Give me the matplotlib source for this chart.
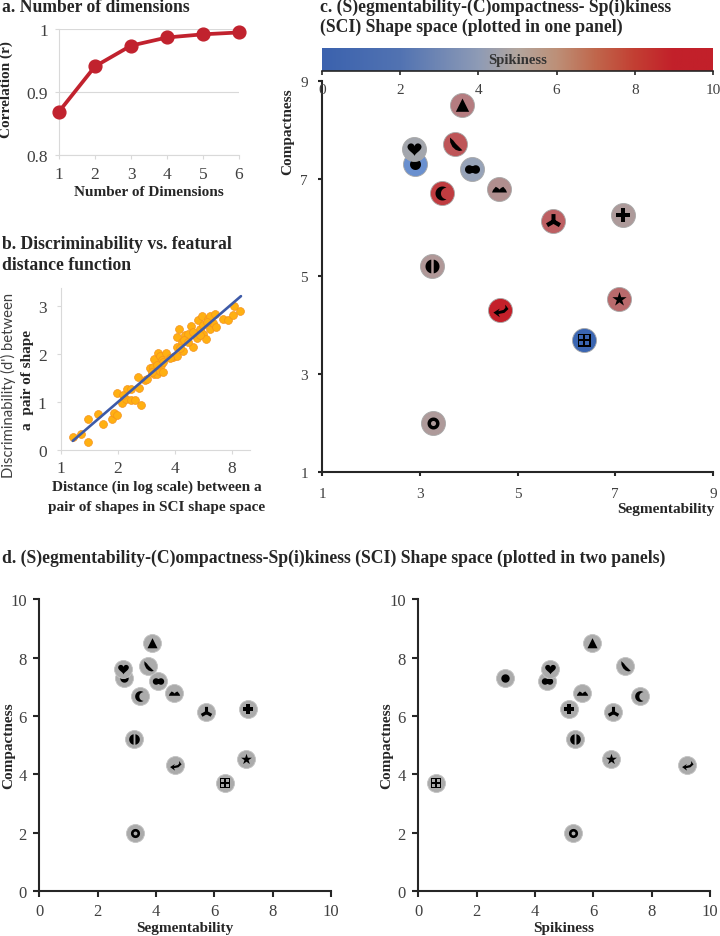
import numpy as np
import matplotlib
matplotlib.use('Agg')
import matplotlib.pyplot as plt
from matplotlib.colors import LinearSegmentedColormap
from matplotlib.path import Path

# panel a
n_dims = [1, 2, 3, 4, 5, 6]
correlation = [0.869, 0.941, 0.974, 0.987, 0.992, 0.995]

# panel b
distance = [1.16, 1.28, 1.39, 1.40, 1.58, 1.68, 1.86, 1.92, 1.99, 1.98, 2.10, 2.23, 2.21, 2.34, 2.47,
            2.34, 2.58, 2.57, 2.64, 2.79, 2.96, 3.08, 3.10, 3.21, 3.11, 3.24, 3.32, 3.37, 3.34, 3.48,
            3.58, 3.41, 3.93, 4.09, 4.40, 4.09, 4.21, 4.09, 4.35, 4.53, 4.66, 4.85, 4.97, 5.21, 5.32,
            5.54, 5.39, 5.65, 5.81, 6.00, 6.13, 6.38, 6.13, 6.51, 6.59, 7.20, 7.65, 8.13, 8.23, 8.85,
            4.26, 4.44, 4.71, 5.00, 5.43, 5.65, 5.88, 3.48, 3.21, 3.02, 2.84, 3.77, 2.14]
dprime = [0.28, 0.33, 0.17, 0.65, 0.75, 0.54, 0.64, 0.77, 0.74, 1.18, 0.99, 1.27, 1.06, 1.04, 1.04,
          1.28, 1.30, 1.52, 0.93, 1.47, 1.71, 1.73, 1.58, 1.58, 1.89, 2.02, 1.97, 1.78, 1.65, 1.63,
          2.02, 1.87, 1.93, 1.97, 2.06, 2.35, 2.52, 2.15, 2.25, 2.39, 2.43, 2.59, 2.15, 2.34, 2.72,
          2.79, 2.52, 2.43, 2.32, 2.74, 2.53, 2.64, 2.80, 2.83, 2.57, 2.73, 2.72, 2.81, 3.00, 2.91,
          2.12, 2.29, 2.25, 2.46, 2.39, 2.60, 2.67, 1.84, 1.77, 1.63, 1.48, 1.91, 1.14]
fit_x = [1.16, 8.9]
fit_y = [0.19, 3.21]

# panels c and d, circle comes before heart so the heart disc sits on top
shapes = ['circle', 'double', 'heart', 'banana', 'triangle', 'crescent', 'mountains',
          'blades', 'plus', 'split', 'arrow', 'star', 'grid', 'ring']
segmentability = [2.90, 4.07, 2.88, 3.73, 3.86, 3.45, 4.62, 5.73, 7.15, 3.25, 4.65, 7.07, 6.36, 3.27]
compactness = [7.30, 7.20, 7.60, 7.70, 8.50, 6.70, 6.78, 6.13, 6.25, 5.22, 4.32, 4.53, 3.70, 2.00]
spikiness = [2.97, 4.40, 4.50, 7.10, 5.97, 7.60, 5.60, 6.67, 5.15, 5.37, 9.20, 6.60, 0.60, 5.30]
shape_colors = ['#6a90cf', '#97a3b8', '#a3a6ad', '#be5558', '#b57c80', '#c03c40', '#b08e8e',
                '#bd5f62', '#ad9a9a', '#b09898', '#c4202a', '#b96a6c', '#3b66b2', '#ae9a9a']
glyph_px = [11, 15, 14, 14, 14, 14, 15, 15, 14, 14, 16, 15, 13, 12]

W, H = 720, 937
serif = 'Liberation Serif'
tick_color = '#404040'
label_color = '#262626'
dark = '#262626'
light = '#d9d9d9'

plt.rcParams['font.family'] = serif
fig = plt.figure(figsize=(W / 100, H / 100), dpi=100)


def px_axes(x0, x1, ytop, ybot):
    return fig.add_axes([x0 / W, 1 - ybot / H, (x1 - x0) / W, (ybot - ytop) / H])


def put(x, y, s, **kw):
    kw.setdefault('color', label_color)
    kw.setdefault('va', 'center')
    kw.setdefault('fontweight', 'bold')
    fig.text(x / W, 1 - y / H, s, **kw)


def arc(cx, cy, r, a0=0, a1=360, n=48):
    t = np.radians(np.linspace(a0, a1, n))
    return np.column_stack([cx + r * np.cos(t), cy + r * np.sin(t)])


def loops(*polys):
    verts, codes = [], []
    for p in polys:
        p = np.asarray(p, dtype=float)
        verts.extend(p.tolist())
        verts.append(p[0].tolist())
        codes.extend([Path.MOVETO] + [Path.LINETO] * (len(p) - 1) + [Path.CLOSEPOLY])
    return Path(verts, codes)


def arm(angle, length, w):
    c, s = np.cos(np.radians(angle)), np.sin(np.radians(angle))
    d, m = np.array([c, s]), np.array([-s, c])
    return [-w * m, length * d - w * m, length * d + w * m, w * m]


def square(x0, x1, y0, y1):
    return [(x0, y0), (x1, y0), (x1, y1), (x0, y1)]


t = np.linspace(0, 2 * np.pi, 60)
heart_pts = np.column_stack([16 * np.sin(t) ** 3,
                             13 * np.cos(t) - 5 * np.cos(2 * t) - 2 * np.cos(3 * t) - np.cos(4 * t) + 2]) / 17
star_ang = np.radians(90 + 36 * np.arange(10))
star_r = np.where(np.arange(10) % 2 == 0, 1.0, 0.38)

glyphs = {
    'triangle': loops([(-0.95, -0.9), (0.95, -0.9), (0, 1)]),
    'circle': loops(arc(0, 0, 1)),
    'ring': loops(arc(0, 0, 1), arc(0, 0, 0.42, 360, 0)),
    'heart': loops(heart_pts[::-1]),
    'double': loops(arc(-0.43, 0, 0.57), arc(0.43, 0, 0.57), square(-0.5, 0.5, -0.38, 0.38)),
    'crescent': loops(np.vstack([arc(0, 0, 1, 55, 305), arc(0.6, 0, 0.82, 268, 92)])),
    'banana': loops([(-0.75, 0.95), (-0.72, 0.3), (-0.42, -0.32), (0.02, -0.72), (0.5, -0.88), (0.95, -0.8),
                     (0.45, -0.3), (0.05, 0.1), (-0.3, 0.55)]),
    'mountains': loops([(-1, -0.4), (1, -0.4), (0.85, -0.05), (0.5, 0.36), (0.2, 0.2), (0, 0),
                        (-0.2, 0.2), (-0.5, 0.36), (-0.85, -0.05)]),
    'blades': loops(arm(90, 1, 0.27), arm(210, 1, 0.29), arm(330, 1, 0.29)),
    'plus': loops([(-0.3, -1), (0.3, -1), (0.3, -0.3), (1, -0.3), (1, 0.3), (0.3, 0.3), (0.3, 1),
                   (-0.3, 1), (-0.3, 0.3), (-1, 0.3), (-1, -0.3), (-0.3, -0.3)]),
    'split': loops(arc(0, 0, 1, 100, 260), arc(0, 0, 1, -80, 80)),
    'arrow': loops([(0.64, 0.8), (0.66, 0.36), (0.4, 0.08), (-0.3, -0.1), (-0.1, 0.26), (-0.96, -0.28),
                    (-0.08, -0.92), (-0.28, -0.48), (0.52, -0.32), (1.08, 0.2)]),
    'star': loops(np.column_stack([star_r * np.cos(star_ang), star_r * np.sin(star_ang)])),
    'grid': loops(square(-1, 1, -1, 1), square(-0.74, -0.11, -0.74, -0.11)[::-1], square(0.11, 0.74, -0.74, -0.11)[::-1],
                  square(-0.74, -0.11, 0.11, 0.74)[::-1], square(0.11, 0.74, 0.11, 0.74)[::-1]),
}


def draw_shapes(ax, xs, ys, colors, disc_px, scale, edge):
    disc = (disc_px * 0.72) ** 2
    for i, name in enumerate(shapes):
        c = colors[i] if isinstance(colors, list) else colors
        ax.scatter(xs[i], ys[i], s=disc, color=c, edgecolor=edge, linewidth=0.6, zorder=3 + 2 * i, clip_on=False)
        ax.scatter(xs[i], ys[i], s=(glyph_px[i] * scale * 0.72) ** 2, marker=glyphs[name], color='black',
                   linewidth=0, zorder=4 + 2 * i, clip_on=False)


def style_axis(ax, color, lw, size, length=3, padx=3, pady=3):
    ax.patch.set_alpha(0)
    for side in ['top', 'right']:
        ax.spines[side].set_visible(False)
    for side in ['left', 'bottom']:
        ax.spines[side].set_color(color)
        ax.spines[side].set_linewidth(lw)
    ax.tick_params(colors=color, width=lw, length=length, labelsize=size, labelcolor=tick_color)
    ax.tick_params(axis='x', pad=padx)
    ax.tick_params(axis='y', pad=pady)


# a. number of dimensions
ax = px_axes(59, 239, 30.3, 156)
ax.plot(n_dims, correlation, color='#c1222e', lw=2.7, marker='o', ms=9.2, clip_on=False, zorder=3)
ax.set_xlim(1, 6)
ax.set_ylim(0.8, 1)
ax.set_xticks(n_dims)
ax.set_yticks([0.8, 0.9, 1])
ax.set_yticklabels(['0.8', '0.9', '1'])
ax.grid(axis='y', color=light, lw=0.8)
ax.set_axisbelow(True)
style_axis(ax, light, 0.8, 12.5, padx=5, pady=5)

# b. discriminability
ax = px_axes(60.5, 250, 289, 451)
ax.scatter(distance, dprime, s=32, color='#ffb012', edgecolor='#f5921e', linewidth=0.5, zorder=2, clip_on=False)
ax.plot(fit_x, fit_y, color='#3d5aa8', lw=1.9, zorder=3, solid_capstyle='round')
ax.set_xscale('log', base=2)
ax.set_xlim(1, 9.93)
ax.set_ylim(0, 3.38)
ax.set_xticks([1, 2, 4, 8])
ax.set_xticklabels(['1', '2', '4', '8'])
ax.minorticks_off()
ax.set_yticks([0, 1, 2, 3])
style_axis(ax, light, 0.8, 12.5, padx=4, pady=7)

# c. one panel with spikiness as colour
bar_cmap = LinearSegmentedColormap.from_list('spike', [
    (0, '#3b62ae'), (0.2, '#5273b2'), (0.4, '#8e9bb6'), (0.5, '#b3a69e'), (0.6, '#bd9078'),
    (0.7, '#c0674c'), (0.8, '#c33f33'), (0.9, '#c2202a'), (1, '#c2202a')])
ax = px_axes(322, 713, 82, 472.7)
draw_shapes(ax, segmentability, compactness, shape_colors, 24, 1.0, '#a8a8a8')
ax.set_xlim(1, 9)
ax.set_ylim(1, 9)
ax.set_xticks([1, 3, 5, 7, 9])
ax.set_yticks([1, 3, 5, 7, 9])
style_axis(ax, dark, 1.5, 11, padx=8, pady=7)

cax = px_axes(322, 713, 49, 72)
cax.imshow(np.linspace(0, 1, 512)[None, :], aspect='auto', cmap=bar_cmap, extent=[0, 10, 0, 1])
cax.set_xticks([0, 2, 4, 6, 8, 10])
cax.set_yticks([])
for side in ['top', 'left', 'right']:
    cax.spines[side].set_visible(False)
cax.spines['bottom'].set_color(dark)
cax.spines['bottom'].set_linewidth(1.2)
cax.tick_params(axis='x', colors=dark, width=1.2, length=3, labelsize=11, labelcolor=tick_color, pad=6)
cax.text(5, 0.48, 'Spikiness', ha='center', va='center', fontsize=10.5, fontweight='bold', color='#333333')

# d. two panels
for x0, xs in [(39.3, segmentability), (418.3, spikiness)]:
    ax = px_axes(x0, x0 + 291.7, 600.3, 892)
    draw_shapes(ax, xs, compactness, '#ababab', 18, 0.76, '#c4c4c4')
    ax.set_xlim(0, 10)
    ax.set_ylim(0, 10)
    ax.set_xticks(range(0, 11, 2))
    ax.set_yticks(range(0, 11, 2))
    style_axis(ax, dark, 1.5, 12, length=4, padx=5, pady=5)

# titles and labels
put(2, 7, 'a. Number of dimensions', fontsize=12.7)
put(6, 90, 'Correlation (r)', rotation=90, ha='center', fontsize=11)
put(149, 192, 'Number of Dimensions', ha='center', fontsize=11)

put(2, 245, 'b. Discriminability vs. featural', fontsize=12.7)
put(2, 266, 'distance function', fontsize=12.7)
put(8, 385, "Discriminability (d') between", rotation=90, ha='center', family='Lato', fontweight='normal',
    fontsize=10.7, color=tick_color)
put(28, 380, 'a  pair of shape', rotation=90, ha='center', fontsize=11)
put(157, 487, 'Distance (in log scale) between a', ha='center', fontsize=11)
put(157, 507, 'pair of shapes in SCI shape space', ha='center', fontsize=11)

put(320, 7, 'c. (S)egmentability-(C)ompactness- Sp(i)kiness', fontsize=12.7)
put(320, 27, '(SCI) Shape space (plotted in one panel)', fontsize=12.7)
put(288, 132, 'Compactness', rotation=90, ha='center', fontsize=11)
put(714, 509, 'Segmentability', ha='right', fontsize=11)

put(2, 558, 'd. (S)egmentability-(C)ompactness-Sp(i)kiness (SCI) Shape space (plotted in two panels)', fontsize=12.7)
put(9, 746, 'Compactness', rotation=90, ha='center', fontsize=11)
put(387, 746, 'Compactness', rotation=90, ha='center', fontsize=11)
put(185, 929, 'Segmentability', ha='center', fontsize=11)
put(564, 929, 'Spikiness', ha='center', fontsize=11)

fig.savefig('out.png', dpi=100)
